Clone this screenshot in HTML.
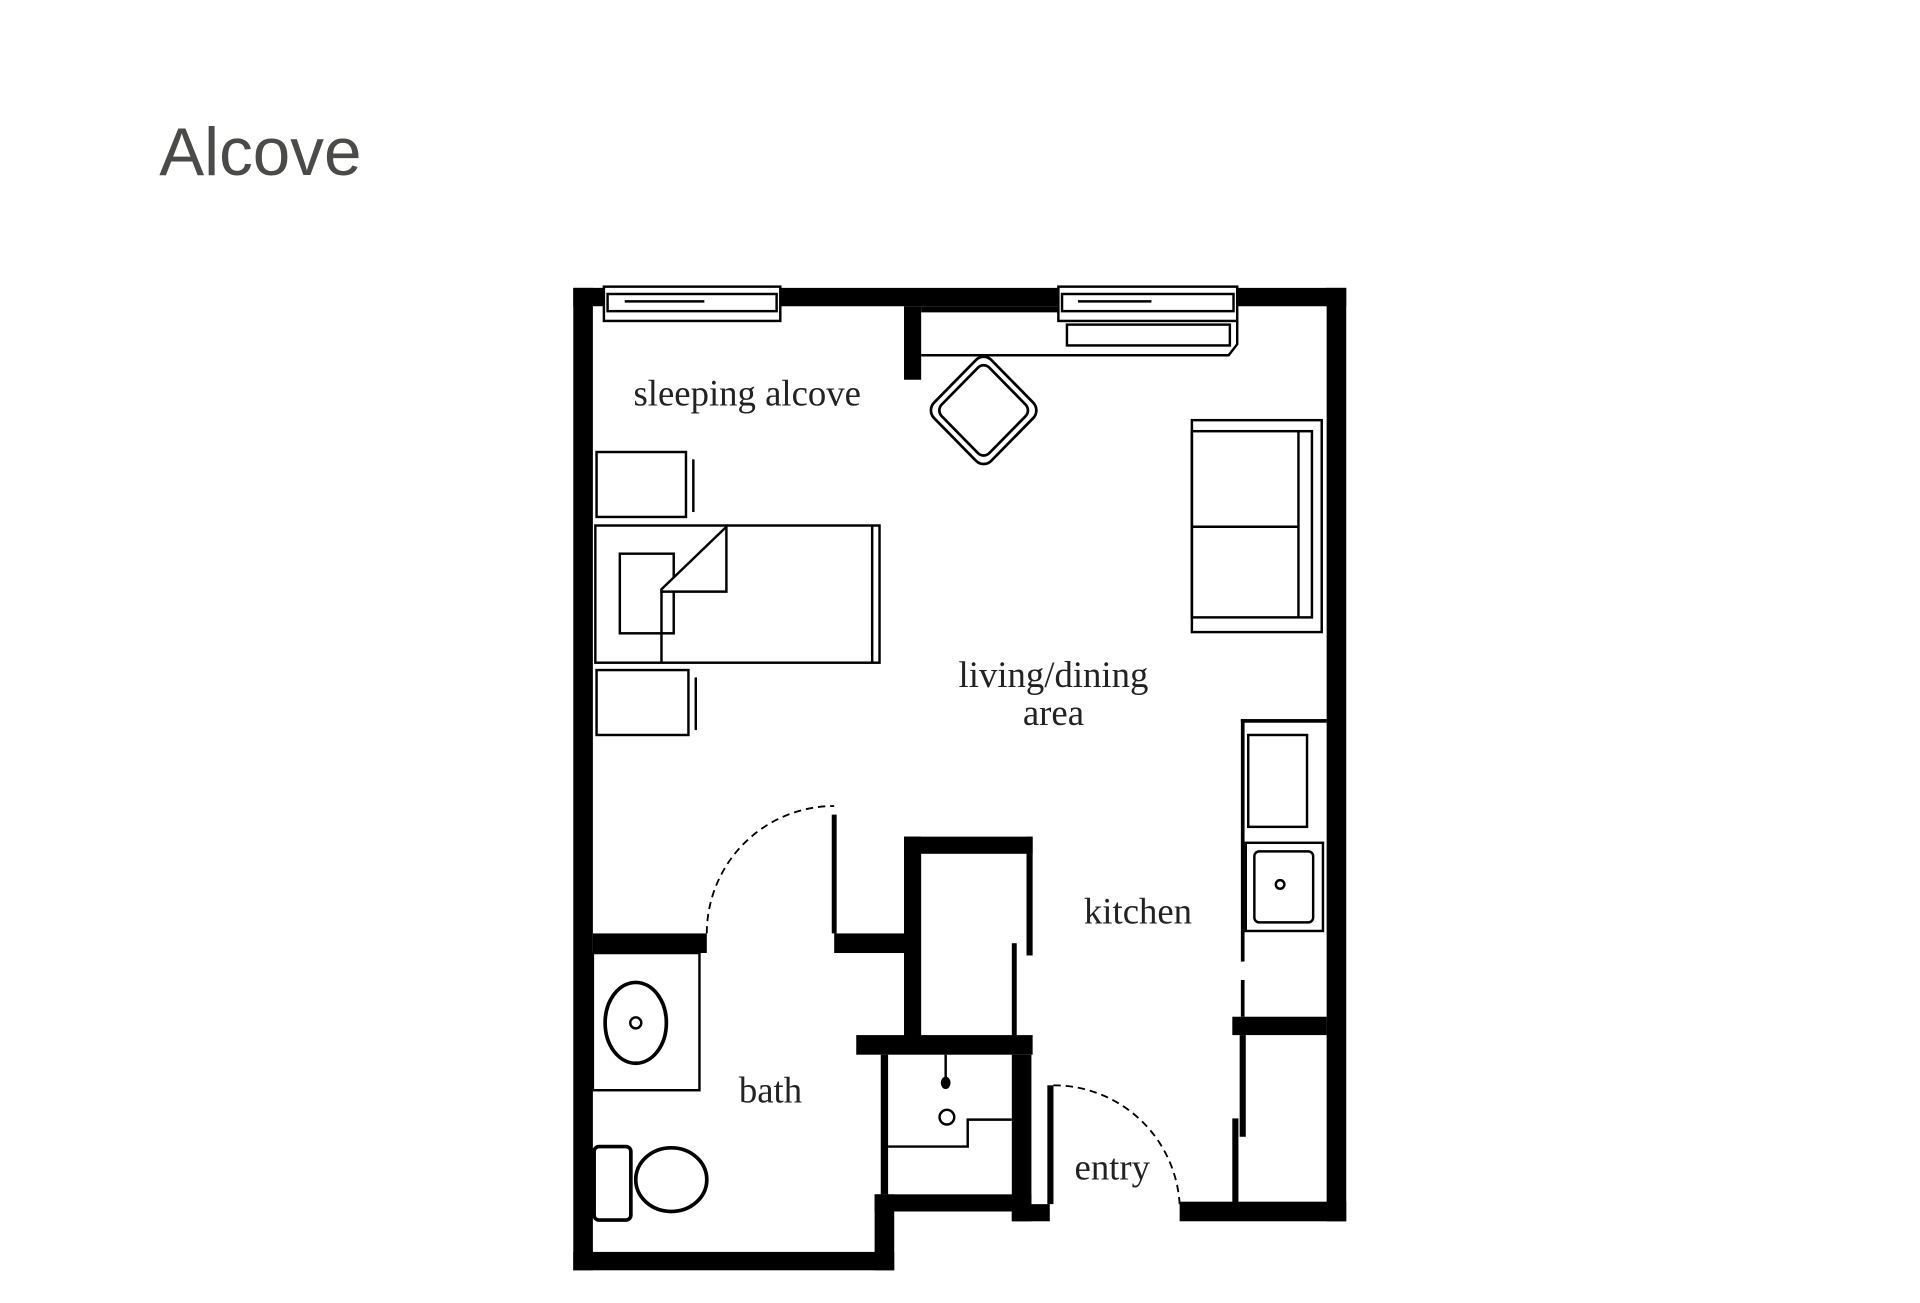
<!DOCTYPE html>
<html><head><meta charset="utf-8"><style>html,body{margin:0;padding:0;background:#fff}svg{display:block}</style></head><body>
<svg width="1920" height="1303" viewBox="0 0 1567.4 1063.7" xmlns="http://www.w3.org/2000/svg" font-family="Liberation Serif, serif">
<rect width="1568" height="1064" fill="#fff"/>
<text x="130" y="143" font-size="55" fill="#4a4a48" font-family="Liberation Sans, sans-serif">Alcove</text>
<g fill="#000">
<rect x="468" y="235" width="16" height="802"/>
<rect x="468" y="235" width="25" height="15"/>
<rect x="637" y="235" width="227" height="15"/>
<rect x="1010" y="235" width="89" height="15"/>
<rect x="752" y="250" width="112" height="5"/>
<rect x="738" y="250" width="14" height="60"/>
<rect x="1083" y="235" width="16" height="762"/>
<rect x="484" y="762" width="93" height="16"/>
<rect x="681" y="762" width="59" height="16"/>
<rect x="679" y="665" width="4" height="97"/>
<rect x="738" y="683" width="105" height="14"/>
<rect x="738" y="683" width="14" height="165"/>
<rect x="838" y="683" width="5" height="97"/>
<rect x="826" y="770" width="4" height="78"/>
<rect x="699" y="845" width="144" height="16"/>
<rect x="719" y="861" width="6" height="114"/>
<rect x="826" y="861" width="16" height="136"/>
<rect x="714" y="975" width="128" height="14"/>
<rect x="826" y="983" width="31" height="14"/>
<rect x="714" y="975" width="16" height="62"/>
<rect x="468" y="1022" width="262" height="15"/>
<rect x="855" y="886" width="5" height="97"/>
<rect x="963" y="981" width="136" height="16"/>
<rect x="1006" y="830" width="77" height="15"/>
<rect x="1012" y="845" width="5" height="83"/>
<rect x="1006" y="913" width="5" height="70"/>
<rect x="1013" y="587" width="3" height="198"/>
<rect x="1013" y="800" width="3" height="30"/>
<rect x="1013" y="587" width="70" height="3"/>
</g>
<g fill="none" stroke="#000" stroke-width="2">
<path d="M577 762 A104 104 0 0 1 681 658" stroke-dasharray="6 4" stroke-width="1.5"/>
<path d="M860 886 A103 103 0 0 1 963 983" stroke-dasharray="6 4" stroke-width="1.5"/>
<rect x="1019" y="600" width="48" height="75"/>
<rect x="1017" y="688" width="63" height="72"/>
<rect x="1024" y="695" width="48" height="58" rx="4"/>
<circle cx="1045" cy="722" r="3.5"/>
<rect x="484" y="778" width="87" height="112"/>
<ellipse cx="519" cy="835" rx="25" ry="33" stroke-width="3"/>
<circle cx="519" cy="835" r="4.5"/>
<rect x="485" y="936" width="30" height="60" rx="4" stroke-width="3"/>
<ellipse cx="548" cy="963" rx="29" ry="26" stroke-width="3"/>
<circle cx="773" cy="912" r="6"/>
<polyline points="725,936 790,936 790,914 826,914"/>
<rect x="493" y="234" width="144" height="28"/>
<rect x="496" y="240" width="138" height="14"/>
<line x1="510" y1="246" x2="575" y2="246"/>
<rect x="864" y="234" width="146" height="28"/>
<rect x="867" y="240" width="140" height="14"/>
<line x1="880" y1="246" x2="940" y2="246"/>
<rect x="871" y="265" width="133" height="17"/>
<polyline points="752,290 1003,290 1010,281 1010,262"/>
<g transform="translate(803,335) scale(1.1,1.12) rotate(45)">
<rect x="-30" y="-30" width="60" height="60" rx="8"/>
<rect x="-25" y="-25" width="50" height="50" rx="6"/>
</g>
<rect x="973" y="343" width="106" height="173"/>
<rect x="973" y="352" width="98" height="152"/>
<line x1="1060" y1="352" x2="1060" y2="504"/>
<line x1="973" y1="430" x2="1060" y2="430"/>
<rect x="487" y="369" width="73" height="53"/>
<line x1="566" y1="375" x2="566" y2="418"/>
<rect x="487" y="547" width="75" height="53"/>
<line x1="568" y1="553" x2="568" y2="596"/>
<rect x="486" y="429" width="232" height="112"/>
<line x1="712" y1="429" x2="712" y2="541"/>
<rect x="506" y="452" width="44" height="65"/>
<polygon points="540,481 593,430 593,483 540,483" fill="#fff"/>
<line x1="540" y1="481" x2="540" y2="541"/>
</g>
<path d="M772 861 L772 880" stroke="#000" stroke-width="2"/>
<ellipse cx="772" cy="884" rx="4" ry="5" fill="#000"/>
<g font-size="30" fill="#222" text-anchor="middle">
<text x="610" y="331">sleeping alcove</text>
<text x="860" y="561">living/dining</text>
<text x="860" y="592">area</text>
<text x="929" y="754">kitchen</text>
<text x="629" y="900">bath</text>
<text x="908" y="963">entry</text>
</g>
</svg>
</body></html>
